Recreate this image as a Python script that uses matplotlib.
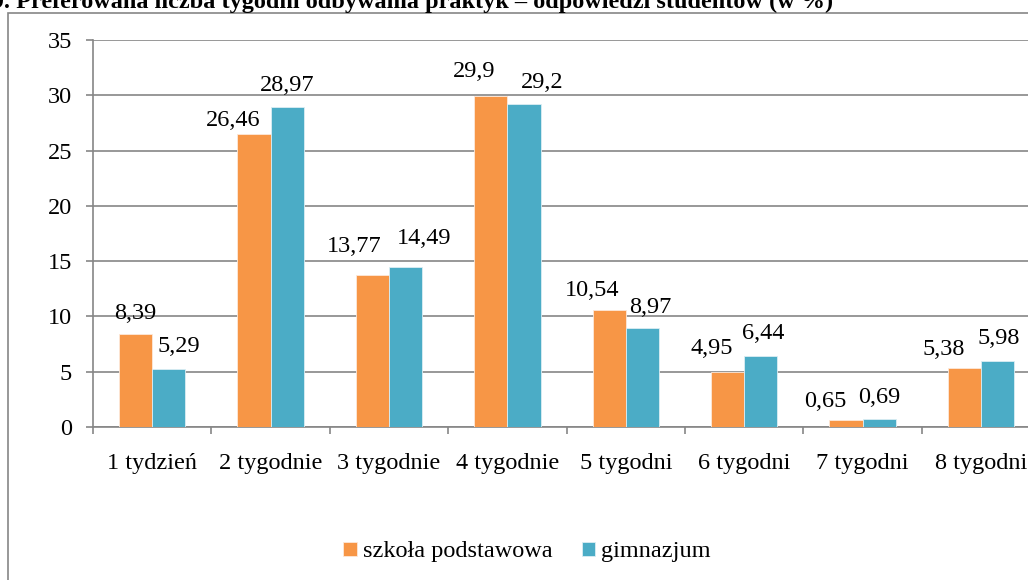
import numpy as np
import matplotlib.pyplot as plt
from matplotlib.patches import Rectangle

# dane z wykresu
kategorie = ['1 tydzień', '2 tygodnie', '3 tygodnie', '4 tygodnie',
             '5 tygodni', '6 tygodni', '7 tygodni', '8 tygodni']
szkola_podstawowa = [8.39, 26.46, 13.77, 29.9, 10.54, 4.95, 0.65, 5.38]
gimnazjum = [5.29, 28.97, 14.49, 29.2, 8.97, 6.44, 0.69, 5.98]
y_ticks = [0, 5, 10, 15, 20, 25, 30, 35]

# przesunięcia etykiet (piksele), jak ręcznie ustawione w oryginale
dx_sp = [0, -21, -18, -17, -17, -16, -21, -21]
dy_sp = [15, 8, 23, 19, 14, 18, 13, 13]
dx_gim = [10, 0, 19, 18, 8, 2, 0, 1]
dy_gim = [17, 16, 23, 16, 15, 17, 16, 17]

plt.rcParams['font.family'] = ['Liberation Serif', 'DejaVu Serif']
W, H = 1028, 580
fig = plt.figure(figsize=(W / 100, H / 100), dpi=100)
grey = '#868686'
fs = 17.5

# ramka wykresu
fig.add_artist(Rectangle((8 / W, -0.1), 1.2, (H - 13) / H + 0.1,
                         transform=fig.transFigure, fill=False,
                         edgecolor=grey, lw=1.2))

# tytuł (obcięty u góry jak w oryginale)
fig.text(833 / W, 1 - 8 / H,
         'Wykres 9. Preferowana liczba tygodni odbywania praktyk – odpowiedzi studentów (w %)',
         ha='right', va='baseline', fontsize=17.5, fontweight='bold')

cat_w = 118.4
ax = fig.add_axes([93 / W, 1 - 427 / H, 8 * cat_w / W, 387 / H])
x = np.arange(len(kategorie))
bw = 0.28
b1 = ax.bar(x - bw / 2, szkola_podstawowa, bw, color='#F79646', edgecolor='#fde9d9',
            lw=0.6, label='szkoła podstawowa', zorder=3)
b2 = ax.bar(x + bw / 2, gimnazjum, bw, color='#4BACC6', edgecolor='#dbeef3',
            lw=0.6, label='gimnazjum', zorder=3)

def fmt(v):
    return ('%g' % v).replace('.', ',')

for bars, vals, dxs, dys in ((b1, szkola_podstawowa, dx_sp, dy_sp),
                             (b2, gimnazjum, dx_gim, dy_gim)):
    for b, v, dx, dy in zip(bars, vals, dxs, dys):
        ax.annotate(fmt(v), (b.get_x() + b.get_width() / 2, v), xytext=(dx, dy),
                    textcoords='offset pixels', ha='center', va='baseline',
                    fontsize=fs, annotation_clip=False)

ax.set_xlim(-0.5, len(kategorie) - 0.5)
ax.set_ylim(0, 35)
ax.set_yticks(y_ticks)
ax.yaxis.grid(True, color=grey, lw=1.2, zorder=0)
ax.set_xticks(x)
ax.set_xticklabels(kategorie, fontsize=fs)
ax.set_xticks(np.arange(len(kategorie)) - 0.5, minor=True)
ax.tick_params(axis='x', which='major', length=0, pad=19)
ax.tick_params(axis='x', which='minor', length=5, color=grey, width=1.2)
ax.tick_params(axis='y', length=5, color=grey, width=1.2, labelsize=fs, pad=10)
for s in ('top', 'right'):
    ax.spines[s].set_visible(False)
for s in ('left', 'bottom'):
    ax.spines[s].set_color(grey)
    ax.spines[s].set_linewidth(1.2)

fig.legend(loc='center', bbox_to_anchor=(527 / W, 1 - 552 / H), ncol=2, frameon=False,
           fontsize=fs, handlelength=0.55, handleheight=0.55, handletextpad=0.25,
           columnspacing=1.2)

fig.savefig('out.png', dpi=100)
